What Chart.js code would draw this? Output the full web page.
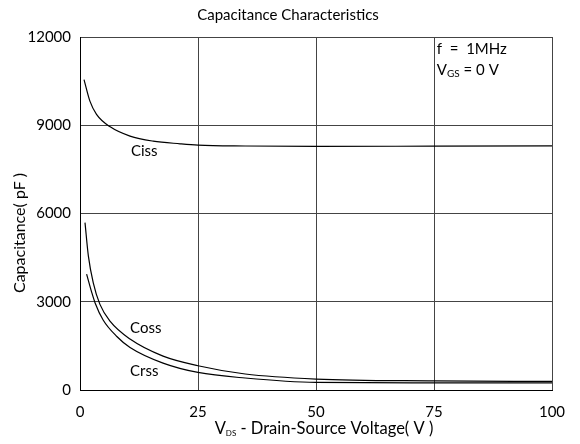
<!DOCTYPE html>
<html>
<head>
<meta charset="utf-8">
<script src="https://cdn.jsdelivr.net/npm/chart.js@4"></script>
<style>
  body { margin: 0; background: #fff; }
  #wrap { width: 580px; height: 444px; }
</style>
</head>
<body>
<div id="wrap"><canvas id="capChart" width="580" height="444"></canvas></div>
<script>
// values (V, pF)
const cissV = [0.85, 2.1, 3.5, 6.4, 10.6, 15.5, 21.2, 25, 35, 50, 75, 100];
const cissC = [10550, 9820, 9370, 8945, 8630, 8460, 8370, 8325, 8295, 8280, 8290, 8300];

const cossV = [1.06, 1.77, 2.8, 4.2, 6.4, 10.6, 17.6, 25, 35, 50, 75, 100];
const cossC = [5690, 4560, 3650, 2920, 2330, 1730, 1150, 825, 543, 373, 310, 290];

const crssV = [1.4, 2.5, 3.2, 4.9, 7.8, 10.6, 17.6, 25, 35, 50, 75, 100];
const crssC = [3940, 3310, 2960, 2380, 1820, 1446, 915, 597, 407, 258, 245, 240];

const xTicks = [0, 25, 50, 75, 100];
const yTicks = [0, 3000, 6000, 9000, 12000];

const FONT = 'Lato, "Open Sans", sans-serif';

function pts(xs, ys) {
  return xs.map((x, i) => ({ x: x, y: ys[i] }));
}

function curve(label, xs, ys) {
  return {
    label: label,
    data: pts(xs, ys),
    borderColor: '#000',
    borderWidth: 1.2,
    pointRadius: 0,
    fill: false,
    cubicInterpolationMode: 'monotone'
  };
}

// draws text with a smaller subscript part: [main, sub, rest]
function subText(ctx, x, y, a, sub, b, size, subSize, center) {
  ctx.font = size + 'px ' + FONT;
  const wa = ctx.measureText(a).width;
  const wb = ctx.measureText(b).width;
  ctx.font = subSize + 'px ' + FONT;
  const ws = ctx.measureText(sub).width;
  let sx = center ? x - (wa + ws + wb) / 2 : x;
  ctx.textAlign = 'left';
  ctx.font = size + 'px ' + FONT;
  ctx.fillText(a, sx, y);
  ctx.font = subSize + 'px ' + FONT;
  ctx.fillText(sub, sx + wa, y + size * 0.25);
  ctx.font = size + 'px ' + FONT;
  ctx.fillText(b, sx + wa + ws, y);
}

const textPlugin = {
  id: 'textPlugin',
  afterDraw(chart) {
    const ctx = chart.ctx;
    const xs = chart.scales.x, ys = chart.scales.y;
    ctx.save();
    ctx.fillStyle = '#000';
    ctx.textBaseline = 'middle';

    // chart title
    ctx.font = '15px ' + FONT;
    ctx.textAlign = 'center';
    ctx.fillText('Capacitance Characteristics', 288, 15);

    // y axis title
    ctx.save();
    ctx.translate(20, 233);
    ctx.rotate(-Math.PI / 2);
    ctx.font = '16px ' + FONT;
    ctx.fillText('Capacitance( pF )', 0, 0);
    ctx.restore();

    // curve labels
    ctx.font = '15px ' + FONT;
    ctx.textAlign = 'left';
    ctx.fillText('Ciss', xs.getPixelForValue(10.8), ys.getPixelForValue(8120));
    ctx.fillText('Coss', xs.getPixelForValue(10.6), ys.getPixelForValue(2090));
    ctx.fillText('Crss', xs.getPixelForValue(10.6), ys.getPixelForValue(631));

    // test conditions
    const px = xs.getPixelForValue(75.6);
    ctx.fillText('f  =  1MHz', px, 49);
    subText(ctx, px, 70, 'V', 'GS', ' = 0 V', 15, 10, false);

    // x axis title
    subText(ctx, 324, 429, 'V', 'DS', ' - Drain-Source Voltage( V )', 16.5, 8, true);
    ctx.restore();
  }
};

const ctx = document.getElementById('capChart').getContext('2d');
new Chart(ctx, {
  type: 'line',
  data: {
    datasets: [
      curve('Ciss', cissV, cissC),
      curve('Coss', cossV, cossC),
      curve('Crss', crssV, crssC)
    ]
  },
  options: {
    responsive: false,
    animation: false,
    layout: { padding: { top: 37, right: 28, left: 0, bottom: 0 } },
    plugins: {
      legend: { display: false },
      tooltip: { enabled: false }
    },
    scales: {
      x: {
        type: 'linear',
        min: 0,
        max: 100,
        afterBuildTicks: s => { s.ticks = xTicks.map(v => ({ value: v })); },
        afterFit: s => { s.height = 54; },
        grid: { color: '#444', lineWidth: 1, drawTicks: false },
        border: { color: '#000', width: 1 },
        ticks: { color: '#000', font: { family: FONT, size: 15 }, padding: 13, maxRotation: 0,
          callback: v => String(v) }
      },
      y: {
        min: 0,
        max: 12000,
        afterBuildTicks: s => { s.ticks = yTicks.map(v => ({ value: v })); },
        afterFit: s => { s.width = 80; },
        grid: { color: '#444', lineWidth: 1, drawTicks: false },
        border: { color: '#000', width: 1 },
        ticks: { color: '#000', font: { family: FONT, size: 15 }, padding: 9,
          callback: v => String(v) }
      }
    }
  },
  plugins: [textPlugin]
});
</script>
</body>
</html>
